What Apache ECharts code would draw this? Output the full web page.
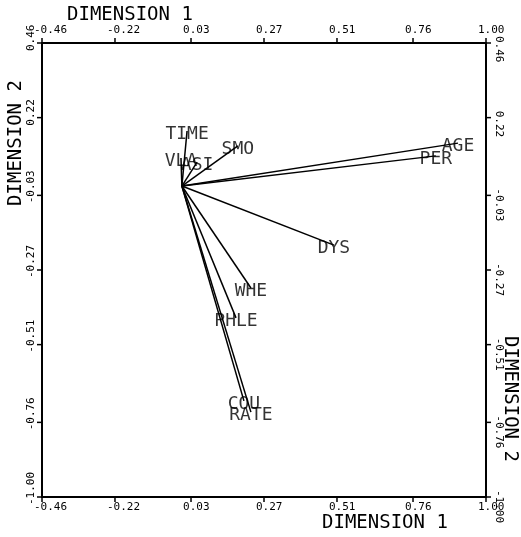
<!DOCTYPE html>
<html>
<head>
<meta charset="utf-8">
<script src="https://cdn.jsdelivr.net/npm/echarts@6/dist/echarts.min.js"></script>
<style>
html,body{margin:0;padding:0;background:#fff;}
#chart{width:521px;height:537px;}
</style>
</head>
<body>
<div id="chart"></div>
<script>
// Variable names and their coordinates (Dimension 1, Dimension 2)
const variables = ['TIME', 'SMO', 'ASI', 'VLA', 'AGE', 'PER', 'DYS', 'WHE', 'PHLE', 'COU', 'RATE'];
const dim1 = [0.017, 0.184, 0.050, -0.003, 0.908, 0.835, 0.500, 0.227, 0.178, 0.204, 0.227];
const dim2 = [0.177, 0.129, 0.077, 0.090, 0.138, 0.097, -0.190, -0.328, -0.424, -0.691, -0.727];
const origin = [0, 0];

// Axis ticks
const xTicks = [-0.46, -0.22, 0.03, 0.27, 0.51, 0.76, 1.00];
const yTicks = [0.46, 0.22, -0.03, -0.27, -0.51, -0.76, -1.00];
const xTitle = 'DIMENSION 1';
const yTitle = 'DIMENSION 2';

const xMin = -0.46, xMax = 1.00, yMin = -1.00, yMax = 0.46;
const mono = 'DejaVu Sans Mono';
const fmt = v => Number(v).toFixed(2);
const TICK = 5;

function axisBase() {
  return {
    axisLine: { show: true, onZero: false, lineStyle: { color: '#000', width: 2 } },
    axisTick: { show: false },
    splitLine: { show: false }
  };
}

function xAxis(pos, margin, vAlign) {
  return Object.assign({
    type: 'value', position: pos, min: xMin, max: xMax,
    axisLabel: {
      customValues: xTicks, formatter: fmt, margin: margin,
      fontFamily: mono, fontSize: 11, color: '#000',
      align: 'left', verticalAlign: vAlign, padding: [0, 0, 0, -8]
    }
  }, axisBase());
}
function yAxis(pos, rotate, margin, shift) {
  return Object.assign({
    type: 'value', position: pos, min: yMin, max: yMax,
    axisLabel: {
      customValues: yTicks, formatter: fmt, margin: margin, rotate: rotate,
      fontFamily: mono, fontSize: 11, color: '#000',
      align: 'left', verticalAlign: 'bottom', padding: [0, 0, 0, shift]
    }
  }, axisBase());
}

const tickLine = (x1, y1, x2, y2) => ({
  type: 'line', shape: { x1, y1, x2, y2 }, style: { stroke: '#000', lineWidth: 1.5 }
});

const chart = echarts.init(document.getElementById('chart'), null, { renderer: 'canvas' });
chart.setOption({
  animation: false,
  backgroundColor: '#fff',
  grid: { left: 42, right: 35, top: 43, bottom: 40, containLabel: false },
  xAxis: [xAxis('bottom', 5, 'top'), xAxis('top', 7, 'bottom')],
  yAxis: [yAxis('left', 90, 5, -8), yAxis('right', -90, 7, -7)],
  graphic: [
    { type: 'text', left: 67, top: 6, style: { text: xTitle, font: '19px ' + mono, fill: '#000' } },
    { type: 'text', left: 322, top: 514, style: { text: xTitle, font: '19px ' + mono, fill: '#000' } },
    { type: 'text', x: 16, y: 143, rotation: Math.PI / 2,
      style: { text: yTitle, font: '19px ' + mono, fill: '#000', align: 'center', verticalAlign: 'middle' } },
    { type: 'text', x: 510, y: 399, rotation: -Math.PI / 2,
      style: { text: yTitle, font: '19px ' + mono, fill: '#000', align: 'center', verticalAlign: 'middle' } }
  ],
  series: [
    {
      type: 'lines',
      coordinateSystem: 'cartesian2d',
      xAxisIndex: 0, yAxisIndex: 0,
      silent: true,
      lineStyle: { color: '#000', width: 1.5, opacity: 1 },
      data: variables.map((n, i) => ({ name: n, coords: [origin, [dim1[i], dim2[i]]] }))
    },
    {
      type: 'scatter',
      xAxisIndex: 0, yAxisIndex: 0,
      symbolSize: 0,
      silent: true,
      label: {
        show: true, position: 'inside', offset: [0, 3],
        formatter: p => p.name,
        fontFamily: mono, fontSize: 18, color: '#000'
      },
      data: variables.map((n, i) => ({ name: n, value: [dim1[i], dim2[i]] }))
    },
    {
      // tick marks on top and bottom frame edges
      type: 'custom',
      coordinateSystem: 'cartesian2d',
      silent: true, clip: false,
      renderItem: (params, api) => {
        const v = api.value(0);
        const b = api.coord([v, yMin]);
        const t = api.coord([v, yMax]);
        return { type: 'group', children: [
          tickLine(b[0], b[1], b[0], b[1] + TICK),
          tickLine(t[0], t[1], t[0], t[1] - TICK)
        ] };
      },
      data: xTicks.map(v => [v, 0])
    },
    {
      // tick marks on left and right frame edges
      type: 'custom',
      coordinateSystem: 'cartesian2d',
      silent: true, clip: false,
      renderItem: (params, api) => {
        const v = api.value(1);
        const l = api.coord([xMin, v]);
        const r = api.coord([xMax, v]);
        return { type: 'group', children: [
          tickLine(l[0], l[1], l[0] - TICK, l[1]),
          tickLine(r[0], r[1], r[0] + TICK, r[1])
        ] };
      },
      data: yTicks.map(v => [0, v])
    }
  ]
});
</script>
</body>
</html>
